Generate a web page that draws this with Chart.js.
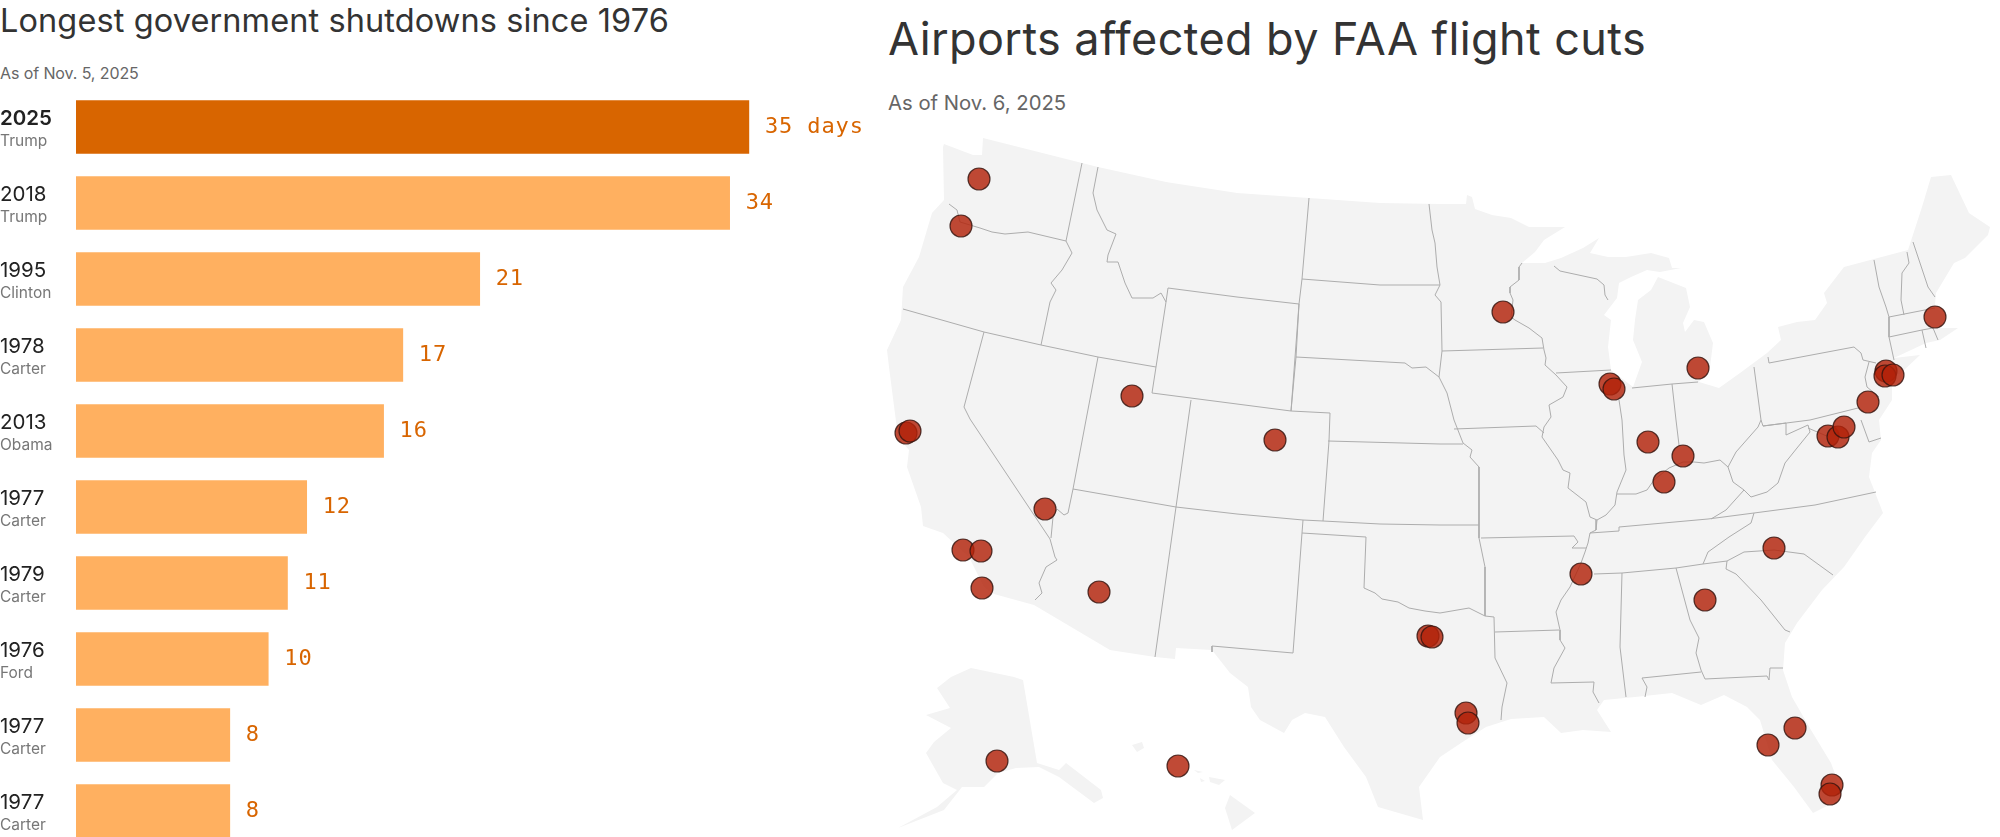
<!DOCTYPE html>
<html>
<head>
<meta charset="utf-8">
<title>Shutdowns and FAA flight cuts</title>
<script src="https://cdn.jsdelivr.net/npm/chart.js@4"></script>
<style>
  html, body { margin: 0; width: 2000px; height: 837px; overflow: hidden; background: #fff; font-family: Inter, sans-serif; }
  .title, .sub { position: absolute; margin: 0; white-space: nowrap; line-height: 1; font-weight: 400; }
  .title { color: #333; }
  .sub { color: #666; }
  #shutTitle { left: 0; top: 5px; font-size: 32.5px; letter-spacing: 0.1px; }
  #shutSub { left: 0; top: 65px; font-size: 16px; letter-spacing: -0.1px; }
  #mapTitle { left: 888px; top: 16px; font-size: 45px; letter-spacing: 0.4px; }
  #mapSub { left: 888px; top: 93px; font-size: 20.3px; }
  canvas { position: absolute; display: block; }
  #barChart { left: 0; top: 0; }
  #mapChart { left: 880px; top: 130px; }
</style>
</head>
<body>
<h1 class="title" id="shutTitle">Longest government shutdowns since 1976</h1>
<p class="sub" id="shutSub">As of Nov. 5, 2025</p>
<h1 class="title" id="mapTitle">Airports affected by FAA flight cuts</h1>
<p class="sub" id="mapSub">As of Nov. 6, 2025</p>
<canvas id="barChart" width="880" height="849"></canvas>
<canvas id="mapChart" width="1120" height="707"></canvas>
<script>
const YEARS = ["2025", "2018", "1995", "1978", "2013", "1977", "1979", "1976", "1977", "1977"];
const PRESIDENTS = ["Trump", "Trump", "Clinton", "Carter", "Obama", "Carter", "Carter", "Ford", "Carter", "Carter"];
const DAYS = [35, 34, 21, 17, 16, 12, 11, 10, 8, 8];

const AIRPORTS = [
  [979, 179], [961, 226], [1132, 396], [1503, 312], [1610, 384], [1614, 389], [1698, 368],
  [1935, 317], [1886, 371], [1885, 376], [1893, 375], [1868, 402], [906, 433], [910, 431],
  [1045, 509], [963, 550], [981, 551], [982, 588], [1099, 592], [1275, 440], [1428, 636],
  [1432, 637], [997, 761], [1178, 766], [1648, 442], [1683, 456], [1664, 482], [1828, 436],
  [1838, 437], [1844, 427], [1581, 574], [1774, 548], [1705, 600], [1768, 745], [1795, 728],
  [1466, 713], [1468, 723], [1832, 785], [1830, 794]
];

const LOWER_48 = [
  [983, 138], [1082, 163], [1098, 167], [1166, 182], [1237, 193], [1309, 198], [1380, 203], [1440, 204],
  [1466, 204], [1467, 195], [1472, 197], [1475, 209], [1492, 215], [1511, 218], [1529, 227], [1565, 227],
  [1544, 240], [1535, 252], [1522, 263], [1545, 263], [1561, 258], [1583, 248], [1599, 238], [1590, 253],
  [1608, 257], [1626, 257], [1651, 253], [1669, 258], [1672, 268], [1681, 268], [1660, 272], [1647, 270],
  [1631, 277], [1619, 283], [1617, 298], [1604, 315], [1611, 320], [1608, 347], [1611, 370], [1633, 387],
  [1642, 362], [1633, 340], [1635, 320], [1638, 300], [1651, 290], [1658, 277], [1686, 288], [1690, 307],
  [1683, 323], [1685, 332], [1694, 320], [1704, 322], [1713, 343], [1710, 367], [1699, 382], [1719, 388],
  [1740, 373], [1767, 353], [1781, 340], [1778, 327], [1797, 322], [1815, 320], [1827, 303], [1824, 293],
  [1844, 267], [1908, 250], [1922, 207], [1931, 177], [1951, 175], [1969, 213], [1990, 227], [1988, 235],
  [1965, 258], [1954, 263], [1936, 293], [1935, 305], [1945, 317], [1940, 328], [1958, 328], [1940, 340],
  [1926, 343], [1894, 358], [1920, 355], [1901, 373], [1892, 377], [1892, 400], [1879, 420], [1881, 440],
  [1872, 453], [1869, 477], [1883, 513], [1865, 537], [1844, 567], [1822, 590], [1797, 623], [1785, 643],
  [1783, 670], [1792, 697], [1811, 730], [1831, 763], [1842, 793], [1833, 803], [1813, 813], [1794, 787],
  [1772, 760], [1760, 720], [1747, 707], [1724, 695], [1701, 705], [1672, 693], [1635, 697], [1604, 700],
  [1597, 710], [1611, 732], [1583, 730], [1561, 733], [1544, 717], [1511, 719], [1486, 727], [1461, 743],
  [1440, 757], [1419, 787], [1423, 820], [1378, 807], [1366, 777], [1344, 747], [1325, 717], [1305, 713],
  [1292, 720], [1284, 733], [1260, 720], [1251, 707], [1248, 687], [1230, 673], [1212, 650], [1176, 648],
  [1175, 659], [1155, 657], [1110, 650], [1034, 605], [994, 594], [984, 587], [969, 557], [943, 533],
  [923, 526], [921, 507], [907, 467], [909, 450], [898, 437], [889, 367], [887, 350], [901, 320],
  [903, 287], [919, 257], [932, 213], [944, 200], [943, 147], [944, 144], [973, 155], [982, 155], [983, 138]
];
const ALASKA = [
  [971, 668], [1014, 677], [1023, 680], [1037, 763], [1059, 770], [1066, 763], [1101, 790], [1103, 798],
  [1094, 803], [1059, 777], [1039, 767], [1016, 768], [998, 773], [984, 787], [962, 787], [944, 810],
  [898, 828], [937, 807], [957, 790], [943, 783], [926, 753], [934, 742], [951, 728], [926, 715],
  [950, 708], [937, 688], [951, 677], [971, 668]
];
const HAWAII_BIG = [[1230, 795], [1255, 813], [1232, 830], [1225, 808], [1230, 795]];
const HAWAII_MAUI = [[1209, 777], [1225, 780], [1219, 785], [1210, 782], [1209, 777]];
const HAWAII_OAHU = [[1194, 770], [1203, 772], [1198, 773], [1194, 770]];
const HAWAII_MOLOKAI = [[1200, 778], [1205, 781], [1201, 782], [1200, 778]];
const HAWAII_KAUAI = [[1132, 745], [1142, 742], [1144, 748], [1137, 752], [1132, 745]];

const STATE_LINES = [
  [[1082, 163], [1066, 241]],
  [[949, 204], [957, 210], [960, 222], [980, 228], [992, 232], [1005, 234], [1028, 232], [1066, 241]],
  [[1066, 241], [1072, 253], [1062, 270], [1051, 283], [1056, 290], [1050, 302], [1041, 345]],
  [[903, 309], [984, 332], [1041, 345], [1098, 357], [1156, 367]],
  [[984, 332], [964, 407], [970, 419], [1050, 539]],
  [[1050, 539], [1055, 557], [1057, 560], [1046, 567], [1039, 583], [1042, 593], [1035, 600]],
  [[1098, 357], [1086, 420], [1073, 489], [1068, 513], [1064, 515], [1057, 509], [1053, 517], [1051, 538]],
  [[1073, 489], [1176, 507], [1237, 514], [1303, 520], [1323, 521], [1380, 524], [1440, 525], [1479, 525]],
  [[1098, 167], [1093, 193], [1097, 210], [1107, 230], [1116, 234], [1108, 255], [1107, 262], [1118, 262],
    [1125, 283], [1132, 298], [1153, 298], [1161, 293], [1166, 302], [1156, 367], [1152, 393]],
  [[1166, 302], [1168, 288], [1237, 297], [1299, 304], [1291, 411], [1152, 393]],
  [[1191, 400], [1176, 507], [1155, 657]],
  [[1291, 411], [1330, 413], [1329, 441], [1323, 521]],
  [[1303, 520], [1302, 533], [1293, 653], [1212, 646], [1212, 652]],
  [[1302, 533], [1366, 537], [1364, 588], [1375, 593], [1382, 599], [1398, 602], [1409, 608], [1425, 611],
    [1440, 613], [1469, 608], [1485, 616], [1494, 617], [1495, 658], [1507, 683], [1502, 707], [1501, 720]],
  [[1479, 467], [1479, 538], [1485, 567], [1485, 616]],
  [[1328, 441], [1440, 444], [1463, 444]],
  [[1296, 357], [1405, 363], [1412, 368], [1426, 367], [1439, 377]],
  [[1302, 279], [1380, 285], [1440, 285]],
  [[1309, 198], [1302, 279], [1299, 304], [1296, 357], [1291, 411]],
  [[1429, 204], [1432, 230], [1435, 243], [1437, 267], [1440, 285], [1435, 295], [1441, 302], [1442, 351],
    [1439, 377], [1447, 393], [1454, 420], [1463, 443], [1472, 450], [1470, 457], [1479, 467]],
  [[1442, 351], [1543, 348]],
  [[1522, 263], [1519, 267], [1519, 280], [1510, 287], [1510, 293], [1513, 300], [1511, 317], [1515, 320],
    [1529, 328], [1542, 338], [1544, 350], [1546, 358], [1545, 365], [1556, 375], [1567, 387], [1563, 397],
    [1549, 405], [1551, 417], [1544, 427], [1542, 437], [1558, 460], [1563, 470], [1570, 473], [1568, 488],
    [1586, 502], [1590, 517], [1597, 520], [1596, 530], [1590, 533], [1588, 543], [1585, 552], [1581, 563],
    [1570, 587], [1561, 600], [1556, 612], [1560, 630], [1560, 640], [1565, 648], [1554, 668], [1551, 683],
    [1594, 682], [1593, 692], [1599, 703]],
  [[1495, 632], [1559, 630]],
  [[1481, 538], [1574, 536], [1578, 542], [1572, 548], [1586, 548]],
  [[1454, 429], [1536, 426], [1544, 433]],
  [[1556, 373], [1611, 370]],
  [[1554, 266], [1560, 271], [1597, 279], [1604, 285], [1605, 295], [1608, 300]],
  [[1619, 400], [1622, 420], [1624, 455], [1626, 470], [1617, 492], [1615, 505], [1606, 515], [1597, 520]],
  [[1617, 494], [1636, 494], [1647, 490], [1654, 480], [1669, 468], [1683, 462], [1694, 462], [1704, 463],
    [1720, 460], [1728, 467], [1736, 452], [1758, 427], [1761, 420], [1754, 367]],
  [[1632, 388], [1672, 384], [1698, 382]],
  [[1672, 384], [1676, 420], [1679, 445]],
  [[1728, 467], [1733, 482], [1744, 490], [1751, 497], [1767, 492], [1778, 483], [1785, 463], [1797, 448],
    [1810, 432], [1808, 425], [1786, 435], [1786, 423], [1763, 426], [1761, 420]],
  [[1744, 490], [1726, 510], [1711, 519]],
  [[1590, 533], [1619, 531], [1619, 527], [1708, 519], [1754, 513], [1815, 505], [1876, 492]],
  [[1754, 513], [1751, 523], [1729, 537], [1708, 552], [1703, 564]],
  [[1594, 574], [1622, 573], [1676, 568], [1703, 564], [1727, 561], [1744, 552], [1774, 550], [1804, 554], [1833, 575]],
  [[1727, 561], [1726, 569], [1736, 574], [1761, 600], [1785, 630], [1790, 632]],
  [[1622, 573], [1620, 647], [1626, 697]],
  [[1676, 568], [1690, 620], [1699, 638], [1696, 653], [1701, 670], [1705, 679], [1767, 676], [1769, 680], [1770, 668], [1783, 668]],
  [[1701, 672], [1642, 678], [1647, 687], [1645, 697]],
  [[1768, 357], [1769, 363], [1854, 347], [1861, 353], [1863, 360], [1876, 363]],
  [[1869, 362], [1865, 377], [1867, 387], [1879, 397]],
  [[1763, 426], [1810, 420], [1858, 408]],
  [[1808, 428], [1829, 437]],
  [[1861, 420], [1869, 442], [1881, 438]],
  [[1874, 260], [1879, 287], [1886, 307], [1889, 317], [1889, 337], [1894, 360]],
  [[1889, 317], [1935, 308]],
  [[1889, 337], [1922, 330], [1933, 328], [1938, 340]],
  [[1922, 330], [1926, 348]],
  [[1907, 252], [1909, 263], [1902, 273], [1901, 300], [1904, 315]],
  [[1913, 242], [1928, 287], [1935, 297]]
];

const BAR_LIGHT = "#ffb060";
const BAR_DARK = "#d86500";
const VALUE_COLOR = "#d86500";

function toPoints(rows) {
  return rows.map(([x, y]) => ({ x, y }));
}

function drawRowLabels(chart) {
  const { ctx } = chart;
  const yScale = chart.scales.y;
  const bars = chart.getDatasetMeta(0).data;
  ctx.save();
  ctx.textBaseline = "alphabetic";
  YEARS.forEach((year, index) => {
    const mid = yScale.getPixelForValue(index);
    ctx.textAlign = "left";
    ctx.letterSpacing = "0px";
    ctx.fillStyle = "#222";
    ctx.font = `${index === 0 ? 600 : 400} 20.5px Inter, sans-serif`;
    ctx.fillText(year, 0, mid - 2);
    ctx.fillStyle = "#777";
    ctx.font = "400 15.5px Inter, sans-serif";
    ctx.fillText(PRESIDENTS[index], 0, mid + 19);

    ctx.letterSpacing = "0.9px";
    ctx.fillStyle = VALUE_COLOR;
    ctx.font = '400 22px "DejaVu Sans Mono", monospace';
    ctx.textBaseline = "middle";
    ctx.fillText(`${DAYS[index]}${index === 0 ? " days" : ""}`, bars[index].x + 16, mid);
    ctx.textBaseline = "alphabetic";
  });
  ctx.restore();
}

new Chart(document.getElementById("barChart"), {
  type: "bar",
  data: {
    labels: YEARS,
    datasets: [
      {
        data: DAYS,
        backgroundColor: DAYS.map((_, index) => (index === 0 ? BAR_DARK : BAR_LIGHT)),
        barThickness: 53,
        borderWidth: 0
      }
    ]
  },
  options: {
    responsive: false,
    animation: false,
    indexAxis: "y",
    layout: { padding: { left: 76, right: 35, top: 89, bottom: 0 } },
    plugins: { legend: { display: false }, tooltip: { enabled: false } },
    scales: {
      x: { display: false, min: 0, max: 40 },
      y: { display: false, grid: { display: false } }
    }
  },
  plugins: [{ id: "rowLabels", afterDatasetsDraw: drawRowLabels }]
});

const lineDatasets = STATE_LINES.map((row) => ({
  data: toPoints(row),
  showLine: true,
  tension: 0,
  fill: false,
  pointRadius: 0,
  borderWidth: 1,
  borderColor: "#adadad"
}));

const landDatasets = [LOWER_48, ALASKA, HAWAII_BIG, HAWAII_MAUI, HAWAII_OAHU, HAWAII_MOLOKAI, HAWAII_KAUAI].map((row) => ({
  data: toPoints(row),
  showLine: true,
  tension: 0,
  fill: "shape",
  backgroundColor: "#f3f3f3",
  borderColor: "#f3f3f3",
  borderWidth: 0,
  pointRadius: 0
}));

new Chart(document.getElementById("mapChart"), {
  type: "scatter",
  data: {
    datasets: [
      {
        data: toPoints(AIRPORTS),
        pointRadius: 11,
        pointBorderWidth: 1.2,
        pointBackgroundColor: "rgba(178, 34, 10, 0.82)",
        pointBorderColor: "rgba(50, 20, 15, 0.8)"
      },
      ...lineDatasets,
      ...landDatasets
    ]
  },
  options: {
    responsive: false,
    animation: false,
    layout: { autoPadding: false },
    plugins: { legend: { display: false }, tooltip: { enabled: false } },
    scales: {
      x: { display: false, min: 880, max: 2000 },
      y: { display: false, min: 130, max: 837, reverse: true }
    }
  }
});
</script>
</body>
</html>
